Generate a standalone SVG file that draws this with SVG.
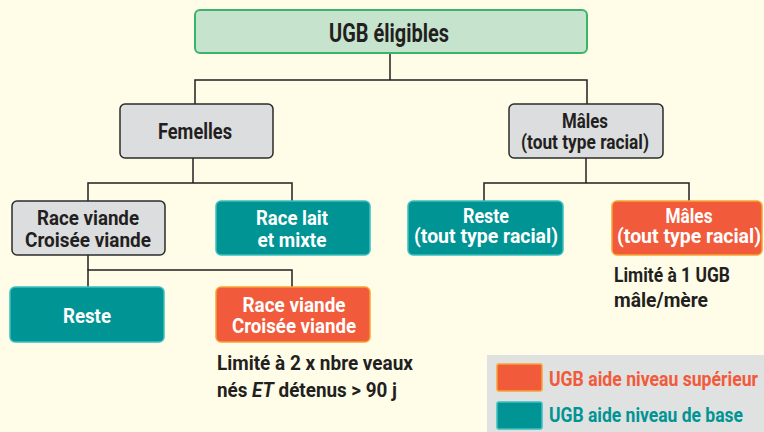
<svg xmlns="http://www.w3.org/2000/svg" width="764" height="432" viewBox="0 0 764 432">
<style>
text{font-family:Roboto,"Liberation Sans",sans-serif;font-weight:700;}
.c{text-anchor:middle;}
.d{fill:#231F20;}
.w{fill:#FFFFFF;}
.gray{fill:#DCDDDE;stroke:#2B2B2B;stroke-width:1.5;}
.teal{fill:#009494;stroke:#3DBFBF;stroke-width:1.5;}
.orange{fill:#F15A3A;stroke:#F8A233;stroke-width:1.5;}
.top{fill:#C5E3CD;stroke:#3BB46A;stroke-width:2;}
.conn{fill:none;stroke:#231F20;stroke-width:1.5;}
</style>
<rect x="0" y="0" width="764" height="432" fill="#FFFDE8"/>
<g id="connectors" class="conn">
<path d="M390,53 V80"/>
<path d="M195,104 V80 H587 V104"/>
<path d="M193,158 V183"/>
<path d="M88,201 V183 H292 V201"/>
<path d="M586,158 V183"/>
<path d="M484,201 V183 H689 V201"/>
<path d="M88,255 V270"/>
<path d="M88,287 V270 H292 V287"/>
</g>
<g id="ugb">
<rect class="top" x="195" y="10" width="392" height="43" rx="5"/>
<text class="c d" x="389" y="42" font-size="25" textLength="120" lengthAdjust="spacingAndGlyphs">UGB éligibles</text>
</g>
<g id="femelles">
<rect class="gray" x="120" y="104" width="153" height="54" rx="5"/>
<text class="c d" x="195" y="139" font-size="22" textLength="74" lengthAdjust="spacingAndGlyphs">Femelles</text>
</g>
<g id="males">
<rect class="gray" x="509" y="104" width="154" height="54" rx="5"/>
<text class="c d" x="585" y="128" font-size="20" textLength="46" lengthAdjust="spacingAndGlyphs">Mâles</text>
<text class="c d" x="585" y="149" font-size="20" textLength="128" lengthAdjust="spacingAndGlyphs">(tout type racial)</text>
</g>
<g id="race-viande">
<rect class="gray" x="12" y="201" width="153" height="54" rx="5"/>
<text class="c d" x="88" y="225" font-size="21" textLength="102" lengthAdjust="spacingAndGlyphs">Race viande</text>
<text class="c d" x="88" y="247" font-size="21" textLength="126" lengthAdjust="spacingAndGlyphs">Croisée viande</text>
</g>
<g id="race-lait">
<rect class="teal" x="216" y="201" width="154" height="54" rx="5"/>
<text class="c w" x="292" y="225" font-size="21" textLength="72" lengthAdjust="spacingAndGlyphs">Race lait</text>
<text class="c w" x="292" y="247" font-size="21" textLength="69" lengthAdjust="spacingAndGlyphs">et mixte</text>
</g>
<g id="reste-males">
<rect class="teal" x="408" y="201" width="155" height="54" rx="5"/>
<text class="c w" x="486" y="223" font-size="21" textLength="46" lengthAdjust="spacingAndGlyphs">Reste</text>
<text class="c w" x="486" y="243" font-size="21" textLength="144" lengthAdjust="spacingAndGlyphs">(tout type racial)</text>
</g>
<g id="males-sup">
<rect class="orange" x="612" y="201" width="150" height="54" rx="5"/>
<text class="c w" x="689" y="223" font-size="21" textLength="47" lengthAdjust="spacingAndGlyphs">Mâles</text>
<text class="c w" x="689" y="243" font-size="21" textLength="144" lengthAdjust="spacingAndGlyphs">(tout type racial)</text>
<text class="d" x="614" y="282" font-size="21" textLength="116" lengthAdjust="spacingAndGlyphs">Limité à 1 UGB</text>
<text class="d" x="614" y="307" font-size="21" textLength="94" lengthAdjust="spacingAndGlyphs">mâle/mère</text>
</g>
<g id="reste-femelles">
<rect class="teal" x="10" y="287" width="154" height="55" rx="5"/>
<text class="c w" x="87" y="323" font-size="21" textLength="48" lengthAdjust="spacingAndGlyphs">Reste</text>
</g>
<g id="race-viande-sup">
<rect class="orange" x="216" y="287" width="154" height="55" rx="5"/>
<text class="c w" x="294" y="312" font-size="21" textLength="103" lengthAdjust="spacingAndGlyphs">Race viande</text>
<text class="c w" x="294" y="333" font-size="21" textLength="124" lengthAdjust="spacingAndGlyphs">Croisée viande</text>
<text class="d" x="217" y="370" font-size="21" textLength="196" lengthAdjust="spacingAndGlyphs">Limité à 2 x nbre veaux</text>
<text class="d" x="217" y="397" font-size="21" textLength="180" lengthAdjust="spacingAndGlyphs">nés <tspan font-style="italic">ET</tspan> détenus &gt; 90 j</text>
</g>
<g id="legend">
<rect x="487" y="355" width="277" height="77" fill="#E0E1E1"/>
<rect class="orange" x="497" y="364" width="45" height="27" rx="2"/>
<rect class="teal" x="497" y="402" width="45" height="27" rx="2"/>
<text x="549" y="386" font-size="20" fill="#F15A3A" textLength="209" lengthAdjust="spacingAndGlyphs">UGB aide niveau supérieur</text>
<text x="549" y="422" font-size="20" fill="#009494" textLength="194" lengthAdjust="spacingAndGlyphs">UGB aide niveau de base</text>
</g>
</svg>
